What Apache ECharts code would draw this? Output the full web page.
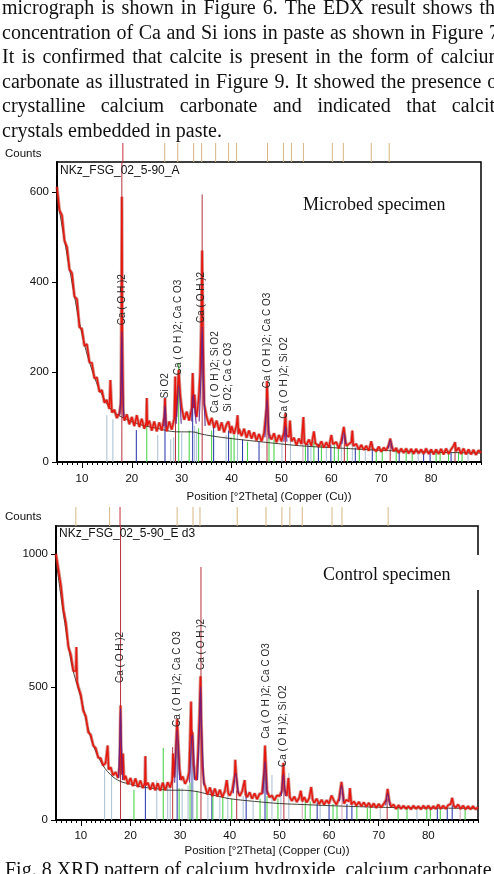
<!DOCTYPE html>
<html><head><meta charset="utf-8">
<script src="https://cdn.jsdelivr.net/npm/echarts@6/dist/echarts.min.js"></script>
<style>html,body{margin:0;padding:0;background:#fff}#c{width:494px;height:874px}</style>
</head><body><div id="c"></div>
<script>
// ---------------- DATA ----------------
const paragraph = [
  'micrograph is shown in Figure 6. The EDX result shows the',
  'concentration of Ca and Si ions in paste as shown in Figure 7.',
  'It is confirmed that calcite is present in the form of calcium',
  'carbonate as illustrated in Figure 9. It showed the presence of',
  'crystalline calcium carbonate and indicated that calcite',
  'crystals embedded in paste.'
];
const caption = 'Fig. 8 XRD pattern of calcium hydroxide, calcium carbonate crystals';
const titleTop = 'NKz_FSG_02_5-90_A';
const titleBot = 'NKz_FSG_02_5-90_E d3';
const specimenTop = 'Microbed specimen';
const specimenBot = 'Control specimen';
const yName = 'Counts';
const xName = 'Position [°2Theta] (Copper (Cu))';
const xTickValues = [10,20,30,40,50,60,70,80];
const yTicksTop = [0,200,400,600];
const yTicksBot = [0,500,1000];
const xRange = [5,90];
const yMaxTop = 667;
const yMaxBot = 1105;

const traceTop = [[5.0,612],[5.5,560],[6.0,548],[6.5,492],[7.0,478],[7.5,428],[8.0,420],[8.5,368],[9.0,362],[9.5,300],[10.0,296],[10.5,258],[11.0,262],[11.5,222],[12.0,220],[12.5,186],[13.0,188],[13.5,156],[14.0,160],[14.5,132],[15.0,138],[15.5,118],[15.7,182],[16.0,110],[16.5,116],[17.0,98],[17.5,108],[17.8,130],[17.9,300],[18.0,590],[18.1,280],[18.3,110],[18.5,92],[19.0,106],[19.5,84],[20.0,100],[20.5,80],[21.0,104],[21.5,78],[22.0,96],[22.5,74],[22.9,88],[23.0,142],[23.1,80],[23.5,92],[24.0,70],[24.5,90],[25.0,68],[25.5,88],[26.0,70],[26.5,100],[26.65,142],[26.8,92],[27.0,68],[27.5,90],[28.0,72],[28.5,96],[28.7,190],[28.85,100],[29.0,130],[29.4,205],[29.7,150],[30.0,120],[30.5,94],[31.0,112],[31.5,92],[32.0,120],[32.2,198],[32.4,120],[32.6,150],[32.8,110],[33.0,100],[33.4,140],[33.7,200],[33.9,300],[34.1,470],[34.3,260],[34.5,130],[35.0,100],[35.5,82],[36.0,98],[36.5,76],[37.0,92],[37.5,70],[38.0,88],[38.5,66],[39.0,84],[39.4,90],[39.8,64],[40.0,80],[40.5,62],[41.0,82],[41.2,104],[41.4,62],[41.5,74],[42.0,58],[42.5,74],[43.0,54],[43.5,70],[44.0,52],[44.5,66],[45.0,48],[45.5,62],[46.0,46],[46.5,64],[47.0,120],[47.1,180],[47.25,130],[47.4,70],[47.5,62],[48.0,50],[48.5,64],[49.0,44],[49.5,60],[50.0,46],[50.5,66],[50.8,108],[51.0,60],[51.5,56],[51.7,92],[51.9,60],[52.0,46],[52.5,54],[53.0,38],[53.5,52],[54.0,40],[54.4,100],[54.6,44],[55.0,38],[55.5,50],[56.0,36],[56.5,68],[56.8,42],[57.0,46],[57.5,34],[58.0,46],[58.5,32],[59.0,44],[59.5,32],[60.0,60],[60.3,40],[60.5,36],[61.0,44],[61.5,30],[62.0,48],[62.5,78],[62.8,50],[63.0,36],[63.5,40],[64.0,44],[64.2,70],[64.4,36],[64.5,32],[65.0,40],[65.5,28],[66.0,38],[66.5,27],[67.0,36],[67.5,25],[68.0,46],[68.3,30],[68.5,34],[69.0,24],[69.5,34],[70.0,23],[70.5,32],[71.0,26],[71.5,38],[71.8,52],[72.2,32],[72.5,24],[73.0,31],[73.5,20],[74.0,30],[74.5,20],[75.0,30],[75.5,19],[76.0,29],[76.5,18],[77.0,29],[77.5,19],[78.0,28],[78.5,18],[79.0,30],[79.5,18],[80.0,28],[80.5,17],[81.0,28],[81.5,18],[82.0,29],[82.5,17],[83.0,30],[83.5,18],[84.0,28],[84.5,36],[84.8,44],[85.0,24],[85.5,32],[86.0,18],[86.5,30],[87.0,17],[87.5,28],[88.0,17],[88.5,27],[89.0,16],[89.5,26],[90.0,20]];

const traceBot = [[5.0,1000],[5.5,940],[6.0,880],[6.5,790],[7.0,740],[7.5,650],[8.0,620],[8.5,560],[9.0,560],[9.1,650],[9.25,520],[9.5,500],[10.0,470],[10.5,410],[11.0,390],[11.5,330],[12.0,320],[12.5,280],[13.0,270],[13.5,235],[14.0,232],[14.5,205],[15.0,215],[15.4,280],[15.6,190],[16.0,198],[16.5,168],[17.0,180],[17.5,158],[17.8,200],[17.9,300],[18.0,430],[18.1,280],[18.3,170],[18.5,250],[18.7,150],[19.0,166],[19.5,134],[20.0,158],[20.5,128],[21.0,156],[21.5,124],[22.0,148],[22.5,120],[22.9,140],[23.0,240],[23.1,130],[23.5,140],[24.0,114],[24.5,140],[25.0,112],[25.5,138],[26.0,110],[26.5,140],[27.0,112],[27.5,142],[28.0,122],[28.4,150],[28.6,250],[28.8,160],[29.1,250],[29.4,380],[29.6,300],[29.9,190],[30.2,150],[30.5,164],[31.0,136],[31.5,154],[31.8,180],[32.0,300],[32.2,445],[32.35,290],[32.5,330],[32.7,210],[33.0,160],[33.3,150],[33.6,250],[33.9,400],[34.1,540],[34.3,350],[34.5,200],[34.8,140],[35.0,130],[35.5,96],[36.0,122],[36.5,90],[37.0,118],[37.5,88],[38.0,114],[38.5,86],[39.0,108],[39.4,150],[39.7,100],[40.0,92],[40.5,112],[41.0,170],[41.1,226],[41.3,170],[41.6,110],[42.0,90],[42.5,108],[43.0,150],[43.2,96],[43.5,86],[44.0,104],[44.5,80],[45.0,100],[45.5,78],[46.0,98],[46.5,100],[46.9,180],[47.1,280],[47.3,200],[47.5,110],[48.0,86],[48.5,92],[49.0,74],[49.5,92],[50.0,90],[50.5,110],[50.8,215],[51.0,120],[51.5,90],[51.8,158],[52.1,86],[52.5,72],[53.0,88],[53.5,68],[54.0,84],[54.3,110],[54.6,70],[55.0,86],[55.5,66],[56.0,82],[56.4,124],[56.7,76],[57.0,64],[57.5,80],[58.0,60],[58.5,76],[59.0,58],[59.5,74],[60.0,62],[60.5,92],[61.0,72],[61.5,58],[62.0,80],[62.5,143],[62.9,86],[63.0,62],[63.5,76],[64.0,70],[64.2,120],[64.5,58],[65.0,70],[65.5,54],[66.0,68],[66.5,52],[67.0,66],[67.5,50],[68.0,64],[68.5,48],[69.0,62],[69.5,46],[70.0,60],[70.5,48],[71.0,60],[71.5,76],[71.8,117],[72.1,74],[72.5,50],[73.0,58],[73.5,42],[74.0,56],[74.5,42],[75.0,54],[75.5,42],[76.0,52],[76.5,40],[77.0,54],[77.5,42],[78.0,52],[78.5,40],[79.0,54],[79.5,42],[80.0,54],[80.5,40],[81.0,52],[81.5,42],[82.0,58],[82.5,42],[83.0,54],[83.5,42],[84.0,56],[84.5,60],[84.8,83],[85.1,54],[85.5,46],[86.0,58],[86.5,42],[87.0,54],[87.5,40],[88.0,52],[88.5,40],[89.0,52],[89.5,40],[90.0,48]];

const backgroundTop = [[5,590],[8,400],[10,285],[12,205],[14,150],[16,115],[18,100],[20,90],[22,82],[25,75],[28,68],[30,67],[32,67],[34,62],[36,58],[40,52],[45,46],[50,40],[55,35],[60,32],[70,26],[80,22],[90,20]];
const backgroundBot = [[5,980],[8,600],[10,460],[12,310],[14,220],[16,170],[18,145],[20,135],[22,125],[25,118],[28,112],[30,112],[33,108],[35,100],[38,88],[40,80],[45,70],[50,62],[55,58],[60,54],[70,48],[80,45],[90,44]];

const profileTop = [
  [[17.6,105],[17.85,180],[18.0,290],[18.15,170],[18.4,100]],
  [[26.4,80],[26.65,125],[26.9,78]],
  [[28.9,85],[29.4,170],[29.9,85]],
  [[32.0,90],[32.3,150],[32.6,120],[32.9,85]],
  [[33.5,90],[33.9,200],[34.1,300],[34.3,200],[34.7,80]],
  [[46.7,55],[47.1,140],[47.5,52]],
  [[50.5,45],[50.8,80],[51.1,45]],
  [[62.1,40],[62.5,65],[62.9,40]],
  [[71.4,30],[71.8,48],[72.2,28]]
];
const profileBot = [
  [[17.6,160],[17.85,300],[18.0,420],[18.15,300],[18.4,150]],
  [[28.9,140],[29.4,340],[29.9,150]],
  [[31.9,140],[32.3,300],[32.5,320],[32.9,150]],
  [[33.5,150],[33.9,350],[34.1,500],[34.3,350],[34.8,130]],
  [[40.7,100],[41.2,175],[41.7,100]],
  [[46.7,100],[47.1,220],[47.5,95]],
  [[50.4,90],[50.8,170],[51.2,90]],
  [[62.1,70],[62.5,130],[62.9,70]],
  [[71.4,55],[71.8,100],[72.2,55]]
];

// reference sticks: [2theta, height, phase]
const sticksTop = [[15.0,104,'o1'],[16.2,95,'o1'],[18.0,700,'port'],[20.9,71,'qtz'],[23.0,78,'calc'],[25.2,60,'o1'],[26.65,145,'qtz'],[27.8,50,'o1'],[28.4,55,'o1'],[28.75,167,'port'],[29.4,220,'calc'],[30.0,65,'o1'],[31.5,70,'calc'],[32.2,198,'qtz'],[32.6,80,'o1'],[33.0,70,'o1'],[33.4,75,'calc'],[34.1,595,'port'],[36.0,70,'calc'],[36.4,87,'qtz'],[38.9,60,'o1'],[39.4,70,'qtz'],[39.9,55,'calc'],[40.5,60,'calc'],[41.2,104,'o1'],[42.2,50,'qtz'],[43.2,45,'calc'],[45.5,45,'qtz'],[47.1,170,'port'],[47.5,55,'calc'],[48.5,50,'calc'],[50.1,60,'o1'],[50.8,108,'port'],[51.8,80,'o1'],[54.3,95,'o2'],[54.8,40,'calc'],[55.3,40,'qtz'],[55.9,40,'o1'],[56.5,45,'calc'],[57.4,40,'qtz'],[58.0,38,'calc'],[59.0,35,'o1'],[59.9,38,'qtz'],[60.6,38,'calc'],[61.4,35,'calc'],[62.0,40,'o1'],[62.6,60,'port'],[63.2,35,'calc'],[64.2,60,'o1'],[64.8,32,'qtz'],[65.6,30,'calc'],[66.8,30,'o1'],[68.2,40,'qtz'],[69.0,28,'calc'],[70.2,28,'calc'],[71.8,40,'port'],[73.0,28,'calc'],[73.6,25,'qtz'],[75.0,25,'calc'],[76.2,25,'calc'],[77.4,24,'o1'],[78.5,22,'qtz'],[79.8,25,'qtz'],[81.0,22,'calc'],[81.8,22,'calc'],[83.5,24,'calc'],[84.0,22,'qtz'],[84.8,35,'port'],[85.5,22,'calc'],[86.2,22,'calc'],[87.4,22,'o1']];
const sticksBot = [[14.8,188,'o1'],[16.2,177,'o1'],[18.0,1150,'port'],[20.7,113,'calc'],[23.0,237,'qtz'],[25.3,150,'o1'],[26.6,271,'calc'],[27.5,140,'o1'],[28.0,130,'o1'],[28.5,274,'port'],[29.4,368,'qtz'],[29.8,120,'calc'],[30.4,120,'o1'],[31.6,130,'o1'],[32.0,140,'calc'],[32.4,338,'qtz'],[32.6,252,'o1'],[33.4,110,'calc'],[34.2,951,'port'],[35.6,100,'o1'],[36.4,110,'qtz'],[36.6,100,'calc'],[38.0,90,'o1'],[38.6,85,'calc'],[39.6,95,'o1'],[40.4,80,'calc'],[41.4,110,'port'],[42.7,90,'o1'],[43.3,110,'qtz'],[44.7,70,'o1'],[46.1,80,'calc'],[47.1,250,'qtz'],[47.5,90,'calc'],[48.5,169,'o1'],[49.7,80,'calc'],[50.3,90,'o1'],[50.9,180,'port'],[51.9,177,'o1'],[54.6,95,'o2'],[55.2,70,'calc'],[56.2,70,'calc'],[57.6,65,'qtz'],[58.2,60,'o1'],[60.0,60,'qtz'],[60.8,60,'calc'],[61.6,55,'calc'],[62.6,110,'o2'],[63.6,60,'qtz'],[64.6,55,'qtz'],[65.6,50,'calc'],[67.7,45,'calc'],[68.3,50,'calc'],[70.3,45,'o1'],[71.7,80,'port'],[73.9,45,'calc'],[75.7,45,'calc'],[77.7,40,'o1'],[79.7,42,'calc'],[80.4,40,'calc'],[81.8,45,'qtz'],[82.4,40,'calc'],[83.8,45,'qtz'],[84.8,55,'qtz'],[86.4,45,'o2'],[87.4,40,'calc']];

// reference markers above the frame (2theta)
const markersTop = [18.2,26.6,29.2,32.4,34.0,36.8,39.4,41.0,47.2,50.4,52.0,54.4,60.2,62.4,68.0,71.6];
const markersBot = [9.0,15.8,17.9,29.4,32.6,34.0,41.5,47.3,50.5,52.1,54.6,60.6,62.6,71.9];

// peak labels: [2theta, counts at label foot, text]
const labelsTop = [[18.0,304,'Ca ( O H )2'],[26.8,142,'Si O2'],[29.3,193,'Ca ( O H )2; Ca C O3'],[34.0,309,'Ca ( O H )2'],[36.8,109,'Ca ( O H )2; Si O2'],[39.4,111,'Si O2; Ca C O3'],[47.2,164,'Ca ( O H )2; Ca C O3'],[50.6,96,'Ca ( O H )2; Si O2']];
const labelsBot = [[17.9,515,'Ca ( O H )2'],[29.4,350,'Ca ( O H )2; Ca C O3'],[34.2,564,'Ca ( O H )2'],[47.4,305,'Ca ( O H )2; Ca C O3'],[50.7,199,'Ca ( O H )2; Si O2']];

// ---------------- STYLE ----------------
const SANS = '"Liberation Sans Narrow","Liberation Sans",Arial,sans-serif';
const SERIF = '"Liberation Serif","Times New Roman",serif';
const phaseColor = {port:'#b8323e', calc:'#3fcf3f', qtz:'#2430a8', o1:'#a9bdd3', o2:'#d9a3b5'};
const RED = '#e8170e';

const chart = echarts.init(document.getElementById('c'), null, {renderer:'canvas'});

function xAxesFor(g, margin, gap) {
  return [
    {gridIndex:g, type:'value', position:'bottom', min:xRange[0], max:xRange[1], interval:1,
     axisLine:{lineStyle:{color:'#000', width:2}},
     axisTick:{length:3, lineStyle:{color:'#000', width:1}},
     axisLabel:{color:'#111', fontSize:11.5, fontFamily:SANS, margin:margin,
       formatter: v => (xTickValues.indexOf(v) >= 0 ? String(v) : '')},
     splitLine:{show:false},
     name:xName, nameLocation:'middle', nameGap:gap,
     nameTextStyle:{color:'#111', fontSize:11.5, fontFamily:SANS}},
    {gridIndex:g, type:'value', position:'bottom', min:xRange[0], max:xRange[1],
     axisLine:{show:false},
     axisTick:{show:true, customValues:xTickValues, length:6, lineStyle:{color:'#000', width:1}},
     axisLabel:{show:false}, splitLine:{show:false}}
  ];
}
function yAxisFor(g, max, ticks) {
  return {gridIndex:g, type:'value', min:0, max:max,
    axisLine:{show:true, lineStyle:{color:'#000', width:2}},
    axisTick:{show:true, customValues:ticks, length:5, lineStyle:{color:'#000'}},
    axisLabel:{customValues:ticks, color:'#111', fontSize:11.5, fontFamily:SANS, margin:8, formatter: v => String(v)},
    splitLine:{show:false}};
}

function seriesFor(g, xIdx, trace, bg, profiles, sticks, markers, labels, ymax) {
  const out = [];
  out.push({type:'custom', xAxisIndex:xIdx, yAxisIndex:g, z:1, clip:true, silent:true,
    data: sticks.map(s => [s[0], s[1]]),
    renderItem(params, api) {
      const x = api.value(0), h = Math.min(api.value(1), ymax);
      const p0 = api.coord([x, 0]), p1 = api.coord([x, h]);
      return {type:'line', shape:{x1:p0[0], y1:p0[1], x2:p1[0], y2:p1[1]},
        style:{stroke: phaseColor[sticks[params.dataIndex][2]], lineWidth:1}};
    }});
  out.push({type:'line', xAxisIndex:xIdx, yAxisIndex:g, z:2, data:bg, symbol:'none', smooth:0.4,
    lineStyle:{color:'#2f2f22', width:0.9}, silent:true});
  out.push({type:'line', xAxisIndex:xIdx, yAxisIndex:g, z:3, data:trace, symbol:'none',
    lineStyle:{color:'#a8261c', width:3.2, opacity:0.5}, silent:true});
  out.push({type:'line', xAxisIndex:xIdx, yAxisIndex:g, z:4, data:trace, symbol:'none',
    lineStyle:{color:RED, width:1.5}, silent:true});
  profiles.forEach(p => out.push({type:'line', xAxisIndex:xIdx, yAxisIndex:g, z:5, data:p, symbol:'none', smooth:0.3,
    lineStyle:{color:'#5b2090', width:1.2, opacity:0.85}, silent:true}));
  out.push({type:'custom', xAxisIndex:xIdx, yAxisIndex:g, z:6, clip:false, silent:true,
    data: markers.map(m => [m, ymax]),
    renderItem(params, api) {
      const p = api.coord([api.value(0), api.value(1)]);
      const isRed = Math.abs(api.value(0) - 18) < 0.3;
      return {type:'line', shape:{x1:p[0], y1:p[1] - 19, x2:p[0], y2:p[1]},
        style:{stroke: isRed ? '#c8303a' : '#d8b683', lineWidth:1}};
    }});
  out.push({type:'custom', xAxisIndex:xIdx, yAxisIndex:g, z:7, clip:false, silent:true,
    data: labels.map(l => [l[0], l[1]]),
    renderItem(params, api) {
      const p = api.coord([api.value(0), api.value(1)]);
      return {type:'text', x:p[0], y:p[1], rotation:Math.PI/2,
        style:{text: labels[params.dataIndex][2], fill:'#2a2a2a', font:'10px "Liberation Sans", Arial, sans-serif',
          align:'left', verticalAlign:'middle'}};
    }});
  return out;
}

// justified paragraph words
const ctx = document.createElement('canvas').getContext('2d');
const PFONT = '20px "Liberation Serif","Times New Roman",serif';
ctx.font = PFONT;
const graphics = [];
paragraph.forEach((line, i) => {
  const baseline = 15.5 + i * 24.55;
  const words = line.split(' ');
  const left = 2, right = 504;
  const widths = words.map(w => ctx.measureText(w).width);
  const total = widths.reduce((a, b) => a + b, 0);
  const justify = i < paragraph.length - 1;
  const gap = justify ? (right - left - total) / (words.length - 1) : ctx.measureText(' ').width;
  let x = left;
  words.forEach((w, k) => {
    graphics.push({type:'text', x:x, y:baseline - 6.5, z:10,
      style:{text:w, font:PFONT, fill:'#111', verticalAlign:'middle', align:'left'}});
    x += widths[k] + gap;
  });
});
graphics.push({type:'text', x:5, y:877 - 6.5, z:10, style:{text:caption, font:PFONT, fill:'#111', verticalAlign:'middle'}});
graphics.push({type:'text', x:5, y:154, z:10, style:{text:yName, font:'11.5px ' + SANS, fill:'#111', verticalAlign:'middle'}});
graphics.push({type:'text', x:5, y:517, z:10, style:{text:yName, font:'11.5px ' + SANS, fill:'#111', verticalAlign:'middle'}});
graphics.push({type:'text', x:60, y:171, z:10, style:{text:titleTop, font:'12px ' + SANS, fill:'#111', verticalAlign:'middle'}});
graphics.push({type:'text', x:59, y:534, z:10, style:{text:titleBot, font:'12px ' + SANS, fill:'#111', verticalAlign:'middle'}});
graphics.push({type:'text', x:303, y:205, z:10, style:{text:specimenTop, font:'18px ' + SERIF, fill:'#111', verticalAlign:'middle'}});
graphics.push({type:'rect', x:474, y:555, z:9, shape:{width:9, height:35}, style:{fill:'#fff'}});
graphics.push({type:'text', x:323, y:575, z:10, style:{text:specimenBot, font:'18px ' + SERIF, fill:'#111', verticalAlign:'middle'}});

const option = {
  animation:false,
  backgroundColor:'#fff',
  grid:[
    {left:57, top:162, width:424, height:300, show:true, borderColor:'#000', borderWidth:1.5, backgroundColor:'transparent'},
    {left:56, top:526, width:422, height:294, show:true, borderColor:'#000', borderWidth:1.5, backgroundColor:'transparent'}
  ],
  xAxis:[...xAxesFor(0, 11, 29), ...xAxesFor(1, 10, 25)],
  yAxis:[yAxisFor(0, yMaxTop, yTicksTop), yAxisFor(1, yMaxBot, yTicksBot)],
  series:[
    ...seriesFor(0, 0, traceTop, backgroundTop, profileTop, sticksTop, markersTop, labelsTop, yMaxTop),
    ...seriesFor(1, 2, traceBot, backgroundBot, profileBot, sticksBot, markersBot, labelsBot, yMaxBot)
  ],
  graphic: graphics
};
chart.setOption(option);
</script></body></html>
